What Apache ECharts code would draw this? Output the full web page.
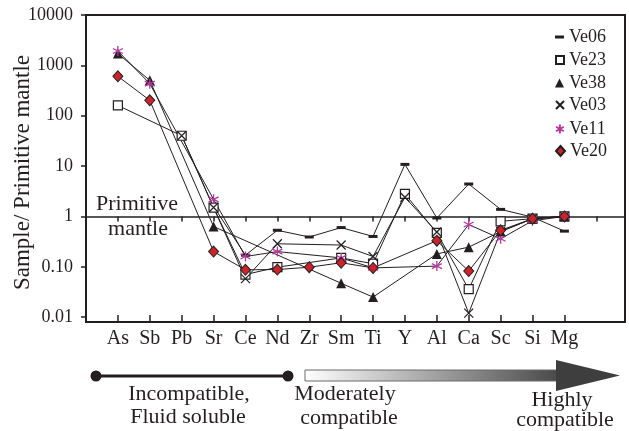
<!DOCTYPE html>
<html><head><meta charset="utf-8">
<script src="https://cdn.jsdelivr.net/npm/echarts@6/dist/echarts.min.js"></script>
<style>html,body{margin:0;padding:0;background:#fff}#c{width:629px;height:431px}</style>
</head><body><div id="c"></div>
<script>
const categories = ['As','Sb','Pb','Sr','Ce','Nd','Zr','Sm','Ti','Y','Al','Ca','Sc','Si','Mg'];
const yTickValues = [0.01, 0.1, 1, 10, 100, 1000, 10000];
const yTickLabels = ['0.01', '0.10', '1', '10', '100', '1000', '10000'];
const ve06 = [null, null, null, 1.58, 0.17, 0.53, 0.39, 0.6, 0.4, 10.8, 0.93, 4.4, 1.38, 0.97, 0.51];
const ve23 = [160, null, 40, 1.5, 0.07, 0.098, null, 0.15, 0.115, 2.8, 0.47, 0.036, 0.8, 0.9, 1.0];
const ve38 = [1710, 504, null, 0.63, null, null, null, 0.047, 0.025, null, 0.18, 0.245, 0.5, 0.9, 1.0];
const ve03 = [null, null, 40, 1.5, 0.058, 0.286, null, 0.27, 0.16, 2.4, 0.49, 0.012, 0.5, 0.9, 1.0];
const ve11 = [1925, 433, null, 2.18, 0.16, 0.2, null, 0.15, 0.095, null, 0.103, 0.69, 0.36, 0.82, 1.0];
const ve20 = [605, 202, null, 0.2, 0.087, 0.088, 0.098, 0.12, 0.095, null, 0.33, 0.082, 0.53, 0.9, 1.0];

const FONT = 'Liberation Serif';
const INK = '#231f20';
const catPositions = categories.map((c, i) => i + 1);
const refTicks = catPositions.concat([categories.length + 1]);
const toData = arr => arr.map((v, i) => v == null ? null : [i + 1, v]).filter(d => d);

const X_PATH = 'path://M0,0L10,10M0,10L10,0';
const STAR_PATH = 'path://M5,0L5,10M0.7,2.5L9.3,7.5M9.3,2.5L0.7,7.5';

const seriesDefs = [
  {name: 'Ve06', data: ve06, symbol: 'rect', size: [9, 3], style: {color: INK}, icon: 'rect', iw: 9, ih: 3},
  {name: 'Ve23', data: ve23, symbol: 'rect', size: 9, style: {color: '#fff', borderColor: INK, borderWidth: 1.2}, icon: 'rect', iw: 8, ih: 8},
  {name: 'Ve38', data: ve38, symbol: 'triangle', size: 10, style: {color: INK}, icon: 'triangle', iw: 9, ih: 9},
  {name: 'Ve03', data: ve03, symbol: X_PATH, size: 9, style: {color: INK, borderColor: INK, borderWidth: 1.2}, icon: X_PATH, iw: 8, ih: 8},
  {name: 'Ve11', data: ve11, symbol: STAR_PATH, size: 10, style: {color: '#b5379e', borderColor: '#b5379e', borderWidth: 1.3}, icon: STAR_PATH, iw: 9, ih: 9},
  {name: 'Ve20', data: ve20, symbol: 'diamond', size: [10, 11], style: {color: '#cc2229', borderColor: INK, borderWidth: 1}, icon: 'diamond', iw: 9, ih: 10}
];
const legendCenters = [33, 56, 79, 101, 125, 147];

const chart = echarts.init(document.getElementById('c'), null, {renderer: 'canvas'});
const option = {
  animation: false,
  backgroundColor: '#fff',
  textStyle: {fontFamily: FONT, color: INK},
  grid: [
    {left: 86, right: 4, top: 15, bottom: 109, show: true, borderColor: INK, borderWidth: 2, backgroundColor: 'transparent', containLabel: false, outerBoundsMode: 'none'},
    {left: 86, right: 4, top: 15, bottom: 214.6, show: false, containLabel: false, outerBoundsMode: 'none'}
  ],
  xAxis: [
    {type: 'value', gridIndex: 0, min: 0, max: 16.9,
      axisLine: {lineStyle: {color: INK, width: 2}},
      axisTick: {inside: true, length: 7, lineStyle: {color: INK, width: 1.5}, customValues: catPositions},
      axisLabel: {customValues: catPositions, formatter: v => categories[Math.round(v) - 1] || '', fontFamily: FONT, fontSize: 20, color: INK, margin: 7},
      splitLine: {show: false}},
    {type: 'value', gridIndex: 1, min: 0, max: 16.9,
      axisLine: {lineStyle: {color: INK, width: 1.5}},
      axisTick: {inside: false, length: 5, lineStyle: {color: INK, width: 1.5}, customValues: refTicks},
      axisLabel: {show: false}, splitLine: {show: false}}
  ],
  yAxis: [
    {type: 'log', gridIndex: 0, min: 0.008, max: 10000, logBase: 10,
      name: 'Sample/ Primitive mantle', nameLocation: 'middle', nameGap: 52, nameMoveOverlap: false,
      nameTextStyle: {fontFamily: FONT, fontSize: 23, color: INK, padding: [0, 8, 0, 0]},
      axisLine: {show: true, lineStyle: {color: INK, width: 2}},
      axisTick: {show: true, inside: false, length: 5, lineStyle: {color: INK, width: 1.5}, customValues: yTickValues},
      axisLabel: {customValues: yTickValues, formatter: v => yTickLabels[Math.round(Math.log10(v)) + 2], fontFamily: FONT, fontSize: 18, color: INK, margin: 13},
      splitLine: {show: false}},
    {type: 'log', gridIndex: 1, min: 1, max: 10000, show: false}
  ],
  legend: seriesDefs.map((s, i) => ({
    orient: 'vertical', left: 550, top: legendCenters[i] - 10,
    itemWidth: s.iw, itemHeight: s.ih, itemGap: 0,
    data: [{name: s.name, icon: s.icon}],
    textStyle: {fontFamily: FONT, fontSize: 18, color: INK, padding: [0, 0, 0, 0]},
    selectedMode: false
  })),
  series: seriesDefs.map(s => ({
    name: s.name, type: 'line', xAxisIndex: 0, yAxisIndex: 0,
    data: toData(s.data), symbol: s.symbol, symbolSize: s.size, showAllSymbol: true,
    itemStyle: s.style, lineStyle: {color: INK, width: 1}, z: 3
  })),
  graphic: [
    {type: 'text', x: 137, y: 204, style: {text: 'Primitive', font: '22px ' + FONT, fill: INK, align: 'center', verticalAlign: 'middle'}},
    {type: 'text', x: 138, y: 229, style: {text: 'mantle', font: '22px ' + FONT, fill: INK, align: 'center', verticalAlign: 'middle'}},
    {type: 'line', shape: {x1: 96, y1: 376, x2: 288, y2: 376}, style: {stroke: INK, lineWidth: 3}},
    {type: 'circle', shape: {cx: 96, cy: 376, r: 5.5}, style: {fill: INK}},
    {type: 'circle', shape: {cx: 288, cy: 376, r: 5.5}, style: {fill: INK}},
    {type: 'rect', shape: {x: 305, y: 370, width: 252, height: 11},
      style: {fill: new echarts.graphic.LinearGradient(0, 0, 1, 0, [{offset: 0, color: '#ffffff'}, {offset: 1, color: '#4a4a4a'}]), stroke: '#6a6a6a', lineWidth: 1}},
    {type: 'polygon', shape: {points: [[556, 360], [620, 375.5], [556, 391]]}, style: {fill: '#3e3e3e'}},
    {type: 'text', x: 189, y: 394, style: {text: 'Incompatible,', font: '22px ' + FONT, fill: INK, align: 'center', verticalAlign: 'middle'}},
    {type: 'text', x: 188, y: 417, style: {text: 'Fluid soluble', font: '22px ' + FONT, fill: INK, align: 'center', verticalAlign: 'middle'}},
    {type: 'text', x: 345, y: 394, style: {text: 'Moderately', font: '22px ' + FONT, fill: INK, align: 'center', verticalAlign: 'middle'}},
    {type: 'text', x: 349, y: 418, style: {text: 'compatible', font: '22px ' + FONT, fill: INK, align: 'center', verticalAlign: 'middle'}},
    {type: 'text', x: 562, y: 400, style: {text: 'Highly', font: '22px ' + FONT, fill: INK, align: 'center', verticalAlign: 'middle'}},
    {type: 'text', x: 565, y: 420, style: {text: 'compatible', font: '22px ' + FONT, fill: INK, align: 'center', verticalAlign: 'middle'}}
  ]
};
chart.setOption(option);
</script></body></html>
